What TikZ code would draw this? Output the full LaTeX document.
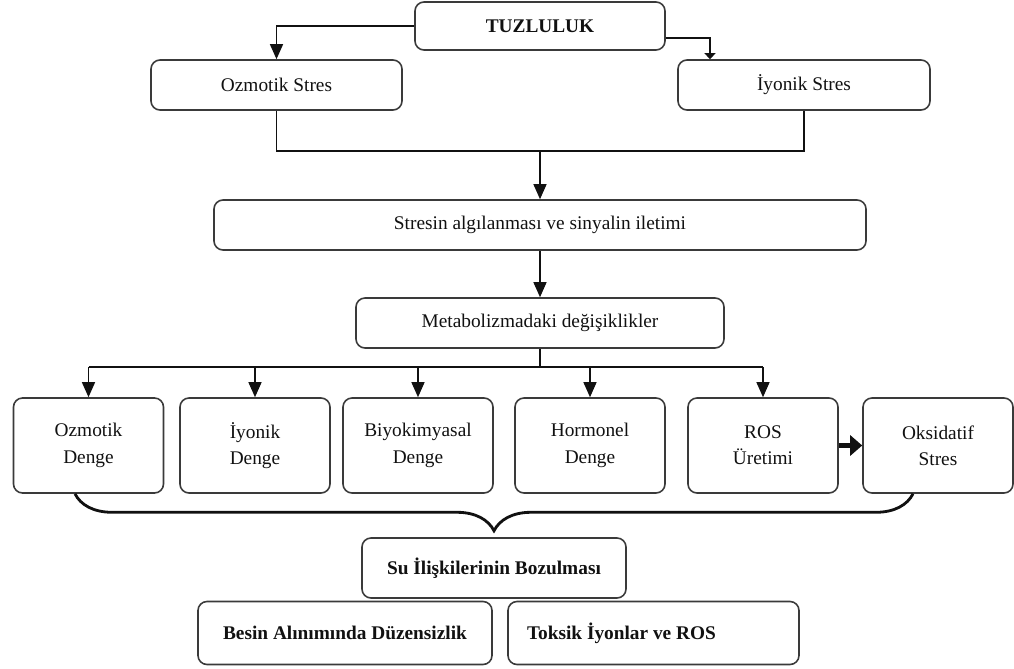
\documentclass[tikz,border=0pt]{standalone}
\usepackage{fontspec}
\setmainfont{Liberation Serif}
\usetikzlibrary{arrows.meta,positioning,decorations.pathreplacing}
\definecolor{flowInk}{HTML}{111111}
\definecolor{flowEdge}{HTML}{3A3A3A}
\tikzset{
  every picture/.style={text=flowInk},
  flow box/.style={draw=flowEdge, line width=0.9pt, rounded corners=1.8mm,
    fill=white, align=center, inner sep=0pt, minimum height=10mm,
    font=\fontsize{11}{15}\selectfont},
  flow bold/.style={font=\fontsize{11}{15}\selectfont\bfseries},
  flow step/.style={flow box, minimum width=30mm, minimum height=19mm},
  flow arrow/.style={-{Triangle[length=3mm,width=2.6mm]},
    draw=flowInk, line width=0.7pt},
  flow line/.style={draw=flowInk, line width=0.7pt},
  flow brace/.style={decorate, decoration={brace,mirror,amplitude=7.4mm},
    draw=flowInk, line width=1.6pt}
}

\begin{document}
\begin{tikzpicture}[x=0.2mm,y=-0.2mm]
  \useasboundingbox (0,0) rectangle (1014,669);
  % top
  \node[flow box,flow bold,minimum width=50mm,minimum height=9.6mm] (tuz) at (540,26) {TUZLULUK};
  \node[flow box,minimum width=50.2mm] (ozs) at (276.5,85) {Ozmotik Stres};
  \node[flow box,minimum width=50.4mm] (iyos) at (804,85) {İyonik Stres};
  \node[flow box,minimum width=130.4mm] (alg) at (540,225) {Stresin algılanması ve sinyalin iletimi};
  \node[flow box,minimum width=73.6mm] (met) at (540,323) {Metabolizmadaki değişiklikler};
  % balances
  \node[flow step] (od) at (88.5,445.5) {Ozmotik\\Denge};
  \node[flow step] (id) at (255,445.5) {İyonik\\Denge};
  \node[flow step] (bd) at (418,445.5) {Biyokimyasal\\Denge};
  \node[flow step] (hd) at (590,445.5) {Hormonel\\Denge};
  \node[flow step] (ros) at (763,445.5) {ROS\\Üretimi};
  \node[flow step] (oks) at (938,445.5) {Oksidatif\\Stres};
  % results
  \node[flow box,flow bold,minimum width=52.8mm,minimum height=12mm] (su) at (494,568) {Su İlişkilerinin Bozulması};
  \node[flow box,flow bold,minimum width=58.8mm,minimum height=12.6mm] (bes) at (345,633) {Besin Alınımında Düzensizlik};
  \node[flow box,flow bold,text width=50.6mm,align=flush left,inner xsep=3.8mm,minimum height=12.6mm] (tok) at (653.5,633) {Toksik İyonlar ve ROS};

  \draw[flow arrow] (tuz.west) -| (ozs.north);
  \draw[flow arrow,-{Triangle[length=1.2mm,width=2.2mm]}] ([yshift=-2.4mm]tuz.east) -| ([xshift=-18.8mm]iyos.north);
  \coordinate (join) at (540,151);
  \draw[flow line] (ozs.south) |- (join) -| (iyos.south);
  \draw[flow arrow] (join) -- (alg.north);
  \draw[flow arrow] (alg.south) -- (met.north);
  \coordinate (split) at (540,367);
  \draw[flow line] (met.south) -- (split);
  \draw[flow line] (split -| od.north) -- (split -| ros.north);
  \foreach \n in {od,id,bd,hd,ros}
    \draw[flow arrow] (split -| \n.north) -- (\n.north);
  \draw[flow arrow,line width=3pt,-{Triangle[length=2.4mm,width=4mm]}] (ros.east) -- (oks.west);
  \draw[flow brace] ([xshift=-2.7mm]od.south) -- ([xshift=-5mm]oks.south);
\end{tikzpicture}
\end{document}
